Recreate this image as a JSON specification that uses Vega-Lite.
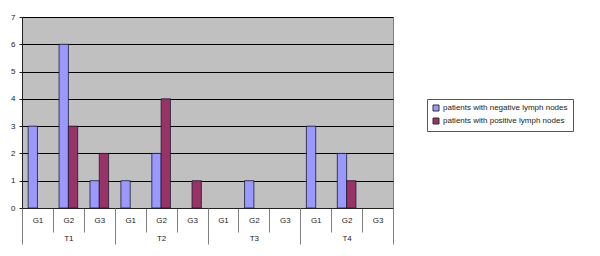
{
  "$schema": "https://vega.github.io/schema/vega-lite/v6.json",
  "width": 371,
  "height": 191,
  "autosize": {"type": "none"},
  "padding": {"left": 22, "top": 17, "right": 207, "bottom": 48},
  "background": "#ffffff",
  "config": {
    "font": "Liberation Sans",
    "view": {"fill": "#C0C0C0", "stroke": "#808080", "strokeWidth": 1},
    "axis": {"labelFont": "Liberation Sans", "labelFontSize": 8, "labelColor": "#222222", "title": null}
  },
  "layer": [
    {
      "data": {"values": [
        {"cat": "T1-G1", "series": "patients with negative lymph nodes", "value": 3},
        {"cat": "T1-G1", "series": "patients with positive lymph nodes", "value": 0},
        {"cat": "T1-G2", "series": "patients with negative lymph nodes", "value": 6},
        {"cat": "T1-G2", "series": "patients with positive lymph nodes", "value": 3},
        {"cat": "T1-G3", "series": "patients with negative lymph nodes", "value": 1},
        {"cat": "T1-G3", "series": "patients with positive lymph nodes", "value": 2},
        {"cat": "T2-G1", "series": "patients with negative lymph nodes", "value": 1},
        {"cat": "T2-G1", "series": "patients with positive lymph nodes", "value": 0},
        {"cat": "T2-G2", "series": "patients with negative lymph nodes", "value": 2},
        {"cat": "T2-G2", "series": "patients with positive lymph nodes", "value": 4},
        {"cat": "T2-G3", "series": "patients with negative lymph nodes", "value": 0},
        {"cat": "T2-G3", "series": "patients with positive lymph nodes", "value": 1},
        {"cat": "T3-G1", "series": "patients with negative lymph nodes", "value": 0},
        {"cat": "T3-G1", "series": "patients with positive lymph nodes", "value": 0},
        {"cat": "T3-G2", "series": "patients with negative lymph nodes", "value": 1},
        {"cat": "T3-G2", "series": "patients with positive lymph nodes", "value": 0},
        {"cat": "T3-G3", "series": "patients with negative lymph nodes", "value": 0},
        {"cat": "T3-G3", "series": "patients with positive lymph nodes", "value": 0},
        {"cat": "T4-G1", "series": "patients with negative lymph nodes", "value": 3},
        {"cat": "T4-G1", "series": "patients with positive lymph nodes", "value": 0},
        {"cat": "T4-G2", "series": "patients with negative lymph nodes", "value": 2},
        {"cat": "T4-G2", "series": "patients with positive lymph nodes", "value": 1},
        {"cat": "T4-G3", "series": "patients with negative lymph nodes", "value": 0},
        {"cat": "T4-G3", "series": "patients with positive lymph nodes", "value": 0}
      ]},
      "transform": [{"filter": "datum.value > 0"}],
      "mark": {"type": "bar", "stroke": "#1a1a33", "strokeWidth": 0.8},
      "encoding": {
        "x": {
          "field": "cat", "type": "nominal",
          "scale": {"domain": ["T1-G1","T1-G2","T1-G3","T2-G1","T2-G2","T2-G3","T3-G1","T3-G2","T3-G3","T4-G1","T4-G2","T4-G3"], "paddingInner": 0, "paddingOuter": 0},
          "axis": {
            "orient": "bottom",
            "labelAngle": 0,
            "labelExpr": "split(datum.label, '-')[1]",
            "tickBand": "extent",
            "tickSize": 24,
            "tickColor": "#808080",
            "domainColor": "#222222",
            "labelPadding": -16,
            "labelBaseline": "top"
          }
        },
        "xOffset": {
          "field": "series", "type": "nominal",
          "scale": {"domain": ["patients with negative lymph nodes", "patients with positive lymph nodes"], "paddingInner": 0, "paddingOuter": 0.66}
        },
        "y": {
          "field": "value", "type": "quantitative",
          "scale": {"domain": [0, 7], "nice": false},
          "axis": {
            "values": [0,1,2,3,4,5,6,7],
            "tickSize": 3,
            "tickColor": "#222222",
            "domainColor": "#222222",
            "labelPadding": 4,
            "gridColor": "#000000",
            "gridWidth": 1
          }
        },
        "color": {
          "field": "series", "type": "nominal",
          "scale": {"domain": ["patients with negative lymph nodes", "patients with positive lymph nodes"], "range": ["#9999FF", "#993366"]},
          "legend": {
            "title": null,
            "orient": "none",
            "legendX": 405,
            "legendY": 82,
            "padding": 5,
            "strokeColor": "#555555",
            "fillColor": "#ffffff",
            "symbolType": "square",
            "symbolSize": 36,
            "symbolStrokeColor": "#333333",
            "symbolStrokeWidth": 1,
            "labelFont": "Liberation Sans",
            "labelFontSize": 8,
            "labelColor": "#222222",
            "labelLimit": 300,
            "rowPadding": 3,
            "labelOffset": 3
          }
        }
      }
    },
    {
      "data": {"values": [{"T": "T1"}, {"T": "T2"}, {"T": "T3"}, {"T": "T4"}]},
      "mark": {"type": "point", "opacity": 0, "size": 0},
      "encoding": {
        "x": {
          "field": "T", "type": "nominal",
          "scale": {"domain": ["T1","T2","T3","T4"], "paddingInner": 0, "paddingOuter": 0},
          "axis": {
            "orient": "bottom",
            "labelAngle": 0,
            "domain": false,
            "tickBand": "extent",
            "tickSize": 36,
            "tickColor": "#808080",
            "labelPadding": -10,
            "labelBaseline": "top"
          }
        }
      }
    }
  ],
  "resolve": {"scale": {"x": "independent"}, "axis": {"x": "independent"}}
}
